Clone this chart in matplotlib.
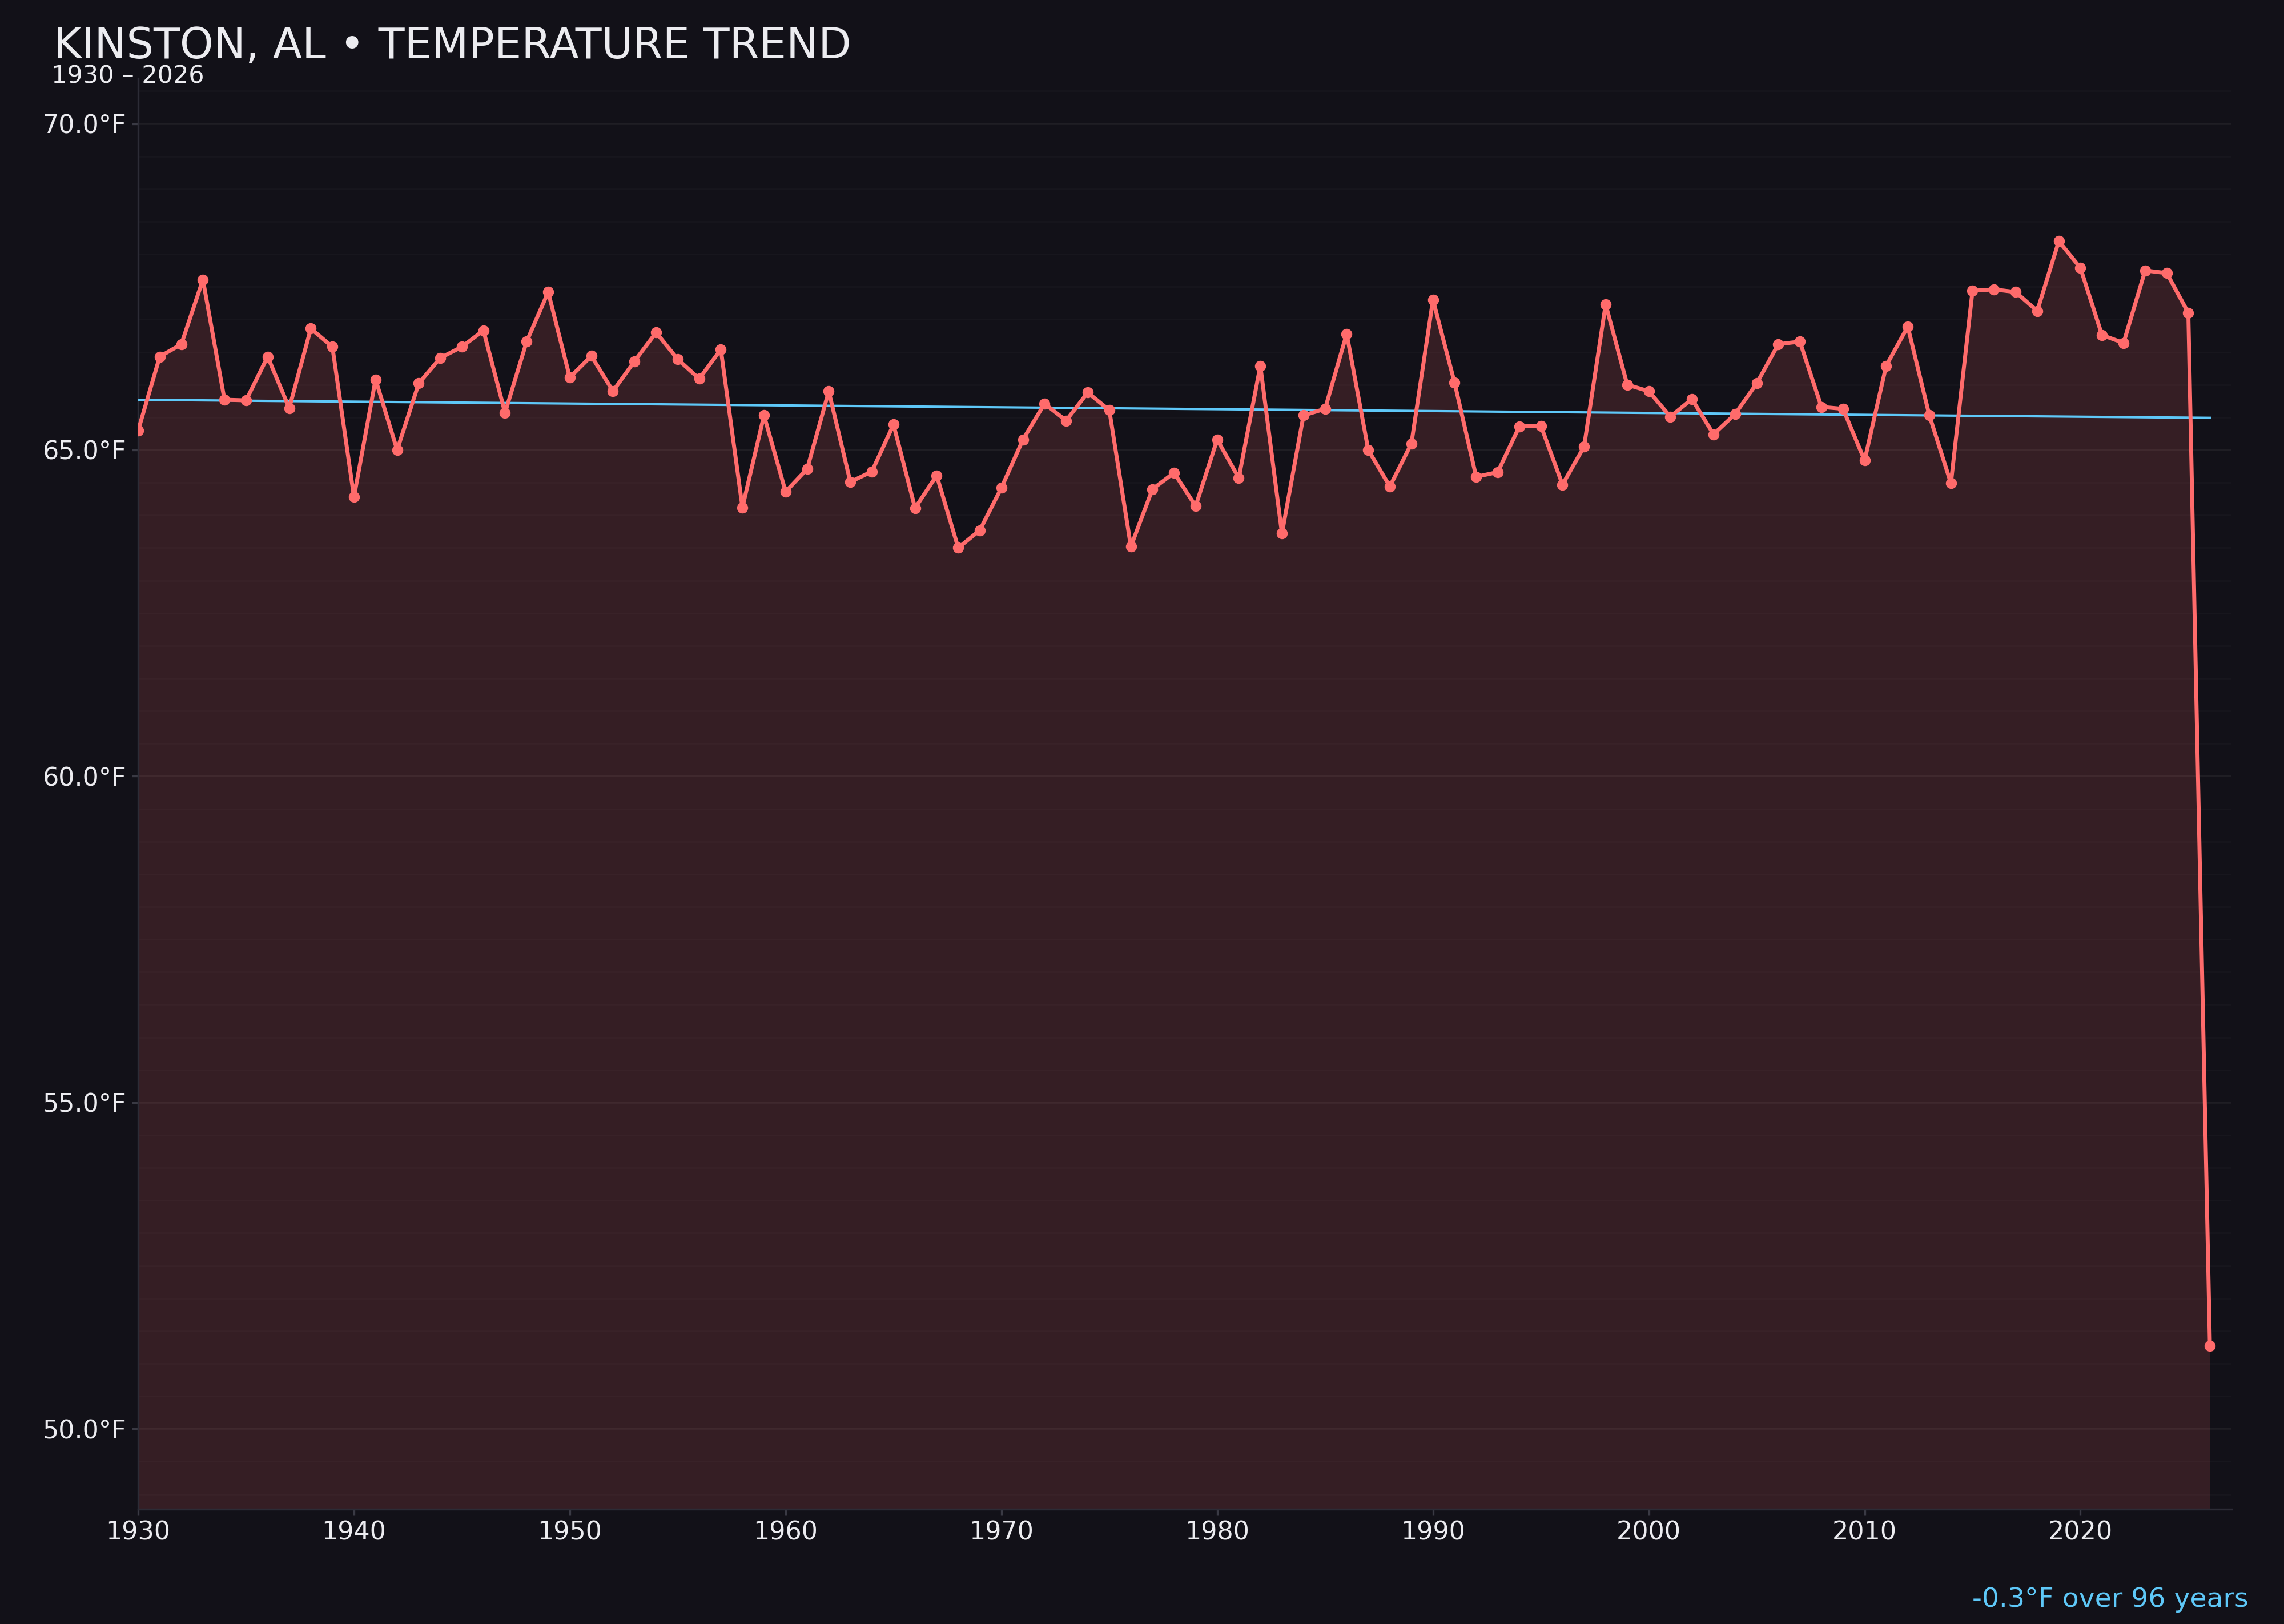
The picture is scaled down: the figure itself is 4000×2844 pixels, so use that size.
import numpy as np
import matplotlib
matplotlib.use('Agg')
import matplotlib.pyplot as plt
from matplotlib.ticker import MultipleLocator, FuncFormatter

#---------------------Data----------------------------
years = np.arange(1930, 2027)
temps = [65.30, 66.43, 66.62, 67.61, 65.77, 65.76, 66.43, 65.64, 66.86, 66.58,   # 1930s
         64.28, 66.08, 65.00, 66.02, 66.41, 66.58, 66.83, 65.57, 66.66, 67.42,   # 1940s
         66.11, 66.44, 65.90, 66.36, 66.80, 66.39, 66.09, 66.54, 64.12, 65.53,   # 1950s
         64.36, 64.71, 65.90, 64.51, 64.67, 65.39, 64.11, 64.61, 63.50, 63.77,   # 1960s
         64.42, 65.16, 65.71, 65.45, 65.88, 65.61, 63.52, 64.40, 64.65, 64.14,   # 1970s
         65.16, 64.57, 66.29, 63.72, 65.53, 65.63, 66.78, 65.00, 64.44, 65.10,   # 1980s
         67.30, 66.03, 64.59, 64.66, 65.36, 65.37, 64.47, 65.05, 67.23, 66.00,   # 1990s
         65.90, 65.51, 65.78, 65.24, 65.55, 66.02, 66.62, 66.66, 65.66, 65.63,   # 2000s
         64.84, 66.29, 66.89, 65.53, 64.49, 67.44, 67.46, 67.42, 67.13, 68.20,   # 2010s
         67.79, 66.76, 66.64, 67.75, 67.71, 67.10, 51.27]                        # 2020s
temps = np.array(temps)
title_txt = 'KINSTON, AL \u2022 TEMPERATURE TREND'
subtitle_txt = '1930 \u2013 2026'

#---------------------Style---------------------------
BG = '#121118'
RED = '#ff6b6b'
BLUE = '#5ec8f8'
TXT = '#ececf0'
plt.rcParams['font.family'] = ['DejaVu Sans']

#---------------------Trend---------------------------
coef = np.polyfit(years, temps, 1)
trend = np.polyval(coef, years)
change = trend[-1] - trend[0]
span = years[-1] - years[0]

#---------------------Plot----------------------------
fig = plt.figure(figsize=(20, 14.22), dpi=200, facecolor=BG)
ax = fig.add_axes([0.0605, 0.0707, 0.9165, 0.8813])
ax.set_facecolor(BG)

ymin = temps.min() - 2.5
ymax = temps.max() + 2.5
ax.fill_between(years, temps, ymin, color=RED, alpha=0.15, linewidth=0, zorder=2)
ax.plot(years, temps, color=RED, lw=2.5, marker='o', ms=6, zorder=4)
ax.plot(years, trend, color=BLUE, lw=1.5, zorder=3)

ax.set_xlim(1930, 2027)
ax.set_ylim(ymin, ymax)
ax.xaxis.set_major_locator(MultipleLocator(10))
ax.yaxis.set_major_locator(MultipleLocator(5))
ax.yaxis.set_minor_locator(MultipleLocator(0.5))
ax.yaxis.set_major_formatter(FuncFormatter(lambda v, p: '%.1f\u00b0F' % v))
ax.grid(axis='y', which='major', color='white', alpha=0.055, lw=1.3, zorder=1)
ax.grid(axis='y', which='minor', color='white', alpha=0.022, lw=1.0, zorder=1)
ax.tick_params(axis='both', which='major', colors='#3a3a44', labelcolor=TXT,
               labelsize=16, width=1.2)
ax.tick_params(axis='x', which='major', length=3.5)
ax.tick_params(axis='y', which='major', length=4)
ax.tick_params(axis='y', which='minor', length=0)
for s in ['top', 'right']:
    ax.spines[s].set_visible(False)
for s in ['left', 'bottom']:
    ax.spines[s].set_color('#2c2c36')
    ax.spines[s].set_linewidth(1.2)

fig.text(0.0235, 0.964, title_txt, color=TXT, fontsize=27, ha='left', va='baseline')
fig.text(0.0225, 0.949, subtitle_txt, color=TXT, fontsize=15.5, ha='left', va='baseline')
fig.text(0.9845, 0.0106, '%.1f\u00b0F over %d years' % (change, span),
         color=BLUE, fontsize=17, ha='right', va='baseline')

fig.savefig('out.png', dpi=200, facecolor=BG)
